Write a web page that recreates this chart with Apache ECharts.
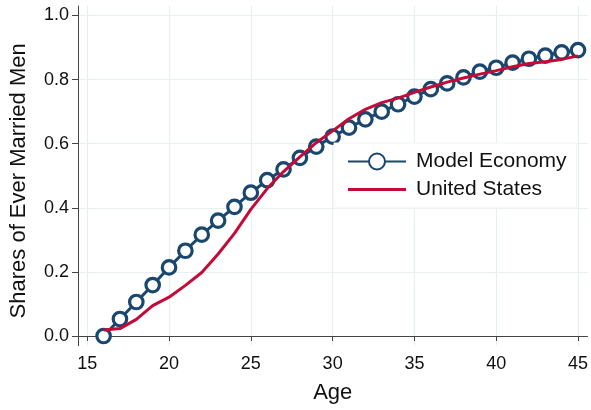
<!DOCTYPE html>
<html>
<head>
<meta charset="utf-8">
<script src="https://cdn.jsdelivr.net/npm/echarts@6/dist/echarts.min.js"></script>
<style>html,body{margin:0;padding:0;background:#fff}#c{width:591px;height:410px}</style>
</head>
<body>
<div id="c"></div>
<script>
const ages = [16,17,18,19,20,21,22,23,24,25,26,27,28,29,30,31,32,33,34,35,36,37,38,39,40,41,42,43,44,45];
const modelEconomy = [0.000,0.053,0.106,0.159,0.214,0.266,0.316,0.360,0.403,0.447,0.486,0.520,0.556,0.591,0.622,0.650,0.676,0.700,0.723,0.747,0.770,0.788,0.807,0.825,0.837,0.853,0.865,0.875,0.885,0.892];
const unitedStates = [0.019,0.023,0.052,0.095,0.121,0.158,0.198,0.256,0.320,0.395,0.460,0.513,0.559,0.603,0.640,0.678,0.707,0.728,0.742,0.760,0.777,0.792,0.805,0.817,0.828,0.840,0.850,0.856,0.863,0.874];
const xTicks = [15,20,25,30,35,40,45];
const yTicks = [0,0.2,0.4,0.6,0.8,1.0];

const navy = '#1a476f';
const red = '#c40a36';
const gridColor = '#e8eff1';
const font = 'Liberation Sans, Arial, Helvetica, sans-serif';

const gridLines = xTicks.map(v => ({xAxis: v})).concat(yTicks.map(v => ({yAxis: v})));

const chart = echarts.init(document.getElementById('c'), null, {renderer:'canvas'});
chart.setOption({
  animation: false,
  backgroundColor: '#fff',
  grid: {left: 77, top: 6, right: 1.5, bottom: 64.3, containLabel: false},
  xAxis: {
    type: 'value', min: 14.435, max: 45.58,
    name: 'Age', nameLocation: 'middle', nameGap: 36,
    nameTextStyle: {fontFamily: font, fontSize: 22, color: '#111'},
    axisLine: {show: true, lineStyle: {color: '#444', width: 1}},
    axisTick: {show: true, length: 5, lineStyle: {color: '#444'}, customValues: xTicks},
    axisLabel: {customValues: xTicks, fontFamily: font, fontSize: 18, color: '#111', margin: 9},
    splitLine: {show: false}
  },
  yAxis: {
    type: 'value', min: -0.0303, max: 1.0296,
    name: 'Shares of Ever Married Men', nameLocation: 'middle', nameGap: 48,
    nameTextStyle: {fontFamily: font, fontSize: 22, color: '#111', padding: [0, 10, 0, 0]},
    axisLine: {show: true, lineStyle: {color: '#444', width: 1}},
    axisTick: {show: true, length: 6, lineStyle: {color: '#444'}, customValues: yTicks},
    axisLabel: {customValues: yTicks, fontFamily: font, fontSize: 18, color: '#111', margin: 9,
      formatter: v => v.toFixed(1)},
    splitLine: {show: false}
  },
  legend: {
    left: 334, top: 143, z: 10,
    orient: 'vertical',
    padding: [8, 10, 8, 13],
    itemWidth: 58, itemHeight: 20, itemGap: 7,
    backgroundColor: '#fff',
    borderColor: '#f0f4f5', borderWidth: 1,
    textStyle: {fontFamily: font, fontSize: 21, color: '#111', padding: [0,0,0,5]},
    data: ['Model Economy', {name: 'United States', icon: 'path://M0,0L58,0L58,3L0,3Z'}]
  },
  series: [
    {
      name: 'grid', type: 'line', data: [], silent: true, z: 0,
      markLine: {silent: true, z: 0, zlevel: 0, symbol: 'none', animation: false, label: {show: false},
        lineStyle: {color: gridColor, width: 1.2, type: 'solid'}, emphasis: {disabled: true},
        data: gridLines}
    },
    {
      name: 'Model Economy', type: 'line',
      data: ages.map((a, i) => [a, modelEconomy[i]]),
      symbol: 'circle', symbolSize: 13.5, showSymbol: true,
      lineStyle: {color: navy, width: 3},
      itemStyle: {color: '#fff', borderColor: navy, borderWidth: 3.2},
      z: 2
    },
    {
      name: 'United States', type: 'line',
      data: ages.map((a, i) => [a, unitedStates[i]]),
      symbol: 'none',
      lineStyle: {color: red, width: 3},
      itemStyle: {color: red},
      z: 3
    }
  ]
});
</script>
</body>
</html>
